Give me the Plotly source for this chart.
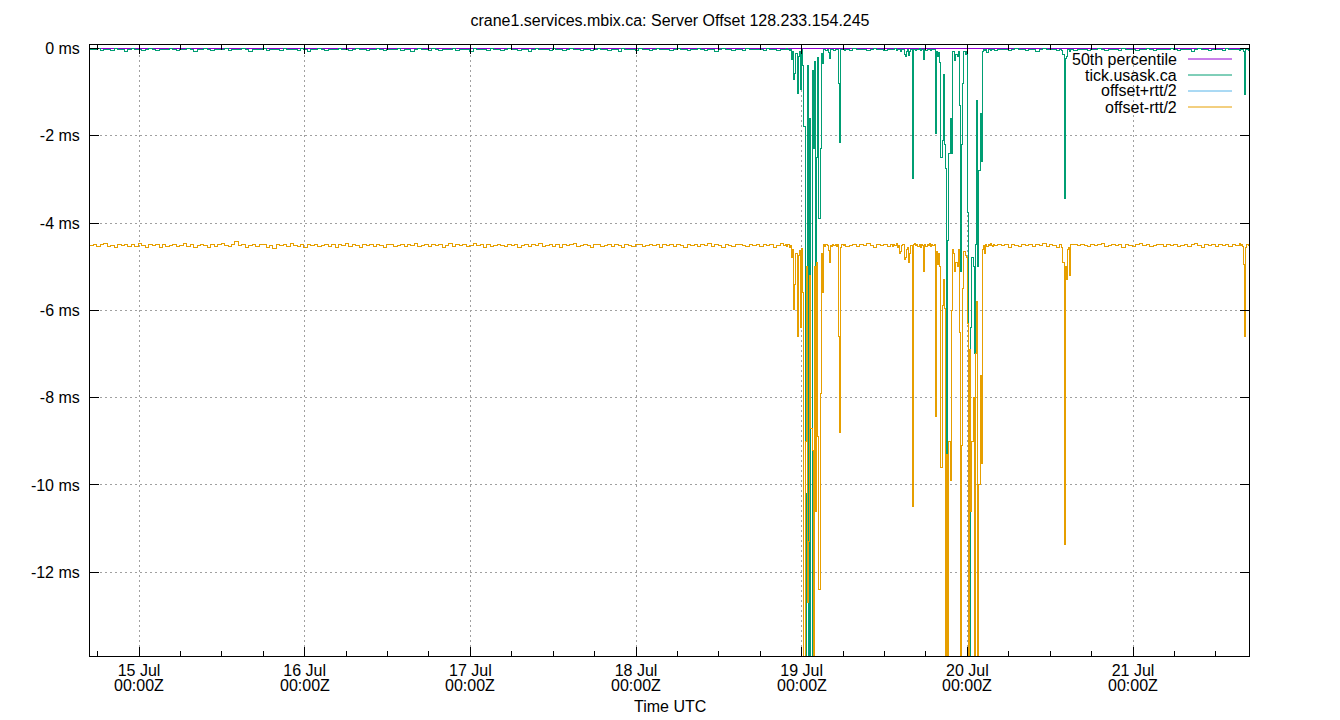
import numpy as np
import pandas as pd
import plotly.graph_objects as go

# ---------------- data ----------------
T0 = pd.Timestamp("2023-07-15 00:00:00")   # 15 Jul 00:00Z; times below are hours from T0
X_START_H = -7.1
X_END_H = 160.8

BASE_START_H = -7.1
BASE_STEP_H = 0.5

green_base = [
    -0.02,-0.03,-0.01,-0.04,-0.02,-0.02,-0.05,-0.01,-0.03,-0.02,-0.06,-0.02,-0.01,-0.03,-0.02,-0.04,-0.02,0.00,-0.03,-0.05,-0.02,-0.02,-0.03,-0.01,
    -0.02,-0.04,-0.02,-0.03,0.01,-0.02,-0.07,-0.02,-0.03,-0.01,-0.02,-0.04,-0.02,-0.03,-0.02,-0.01,-0.05,-0.02,-0.03,-0.02,0.00,-0.03,-0.06,-0.02,
    -0.03,-0.02,-0.01,-0.04,-0.02,-0.03,-0.02,-0.05,-0.01,-0.02,-0.03,-0.02,-0.04,0.00,-0.02,-0.06,-0.02,-0.03,-0.01,-0.02,-0.04,-0.02,-0.03,-0.02,
    -0.01,-0.03,-0.02,-0.05,-0.02,-0.01,-0.03,-0.02,-0.04,-0.02,-0.03,0.01,-0.02,-0.05,-0.02,-0.03,-0.02,-0.01,-0.04,-0.02,-0.03,-0.06,-0.02,-0.01,
    -0.03,-0.02,-0.04,-0.01,-0.02,-0.05,-0.02,-0.03,-0.02,0.00,-0.04,-0.02,-0.03,-0.02,-0.07,-0.01,-0.02,-0.03,-0.02,-0.04,-0.01,-0.02,-0.03,-0.05,
    -0.02,-0.01,-0.03,-0.02,-0.04,-0.02,-0.03,-0.06,-0.02,-0.01,-0.02,-0.03,-0.02,-0.04,0.00,-0.02,-0.03,-0.05,-0.02,-0.01,-0.03,-0.02,-0.04,-0.02,
    -0.03,-0.05,-0.02,-0.01,-0.02,-0.03,-0.04,-0.02,-0.02,-0.06,-0.01,-0.03,-0.02,-0.02,-0.04,-0.01,-0.03,-0.02,-0.05,-0.02,0.01,-0.02,-0.03,-0.02,
    -0.04,-0.02,-0.01,-0.03,-0.02,-0.05,-0.02,-0.03,0.00,-0.02,-0.04,-0.02,-0.03,-0.06,-0.02,-0.01,-0.02,-0.03,-0.04,-0.02,-0.02,-0.05,-0.01,-0.03,
    -0.02,-0.03,-0.02,-0.04,-0.01,-0.02,-0.03,-0.05,-0.02,-0.02,-0.01,-0.04,-0.02,-0.03,-0.02,-0.06,-0.02,-0.01,-0.03,-0.02,-0.04,-0.02,-0.03,-0.01,
    -0.02,-0.04,-0.03,-0.02,-0.05,-0.01,-0.02,-0.03,-0.02,-0.04,-0.02,0.00,-0.03,-0.02,-0.05,-0.02,-0.03,-0.01,-0.02,-0.04,-0.02,-0.06,-0.02,-0.03,
    -0.01,-0.02,-0.03,-0.02,-0.04,-0.02,-0.03,-0.02,-0.05,-0.01,-0.02,-0.03,-0.04,-0.02,-0.02,-0.03,-0.01,-0.05,-0.02,-0.03,-0.02,-0.04,-0.01,-0.02,
    -0.03,-0.02,-0.05,-0.02,-0.01,-0.03,-0.02,-0.04,-0.02,-0.03,-0.06,-0.02,-0.01,-0.02,-0.03,-0.02,-0.04,-0.02,0.00,-0.03,-0.02,-0.05,-0.02,-0.03,
    -0.02,-0.04,-0.02,-0.03,-0.01,-0.02,-0.05,-0.02,-0.03,-0.02,-0.04,-0.01,-0.02,-0.03,-0.02,-0.05,-0.02,-0.03,-0.01,-0.02,-0.04,-0.02,-0.03,-0.02,
    -0.03,-0.01,-0.02,-0.04,-0.02,-0.03,-0.02,-0.06,-0.02,-0.01,-0.03,-0.02,-0.04,-0.02,-0.03,-0.02,-0.05,-0.01,-0.02,-0.03,-0.02,-0.04,-0.02,-0.03,
    -0.02,
]

orange_base = [
    -4.52,-4.49,-4.54,-4.50,-4.47,-4.53,-4.51,-4.56,-4.49,-4.52,-4.48,-4.54,-4.50,-4.53,-4.46,-4.51,-4.55,-4.49,-4.52,-4.50,-4.57,-4.48,-4.53,-4.51,
    -4.49,-4.54,-4.51,-4.47,-4.53,-4.50,-4.55,-4.52,-4.48,-4.51,-4.56,-4.49,-4.53,-4.50,-4.47,-4.52,-4.54,-4.50,-4.43,-4.51,-4.49,-4.55,-4.52,-4.50,
    -4.53,-4.50,-4.48,-4.55,-4.51,-4.58,-4.49,-4.52,-4.50,-4.54,-4.47,-4.51,-4.53,-4.49,-4.56,-4.50,-4.52,-4.48,-4.54,-4.51,-4.49,-4.53,-4.50,-4.55,
    -4.50,-4.52,-4.47,-4.53,-4.49,-4.51,-4.55,-4.48,-4.52,-4.50,-4.54,-4.49,-4.51,-4.57,-4.50,-4.48,-4.53,-4.51,-4.49,-4.54,-4.50,-4.52,-4.47,-4.53,
    -4.51,-4.49,-4.54,-4.50,-4.52,-4.48,-4.55,-4.51,-4.47,-4.53,-4.50,-4.52,-4.49,-4.54,-4.51,-4.46,-4.52,-4.50,-4.55,-4.49,-4.53,-4.51,-4.48,-4.52,
    -4.54,-4.50,-4.52,-4.49,-4.56,-4.51,-4.48,-4.53,-4.50,-4.52,-4.47,-4.54,-4.51,-4.49,-4.53,-4.50,-4.55,-4.48,-4.52,-4.50,-4.46,-4.53,-4.51,-4.49,
    -4.52,-4.55,-4.50,-4.48,-4.53,-4.51,-4.49,-4.54,-4.50,-4.52,-4.57,-4.49,-4.51,-4.53,-4.48,-4.50,-4.54,-4.51,-4.49,-4.52,-4.50,-4.55,-4.48,-4.51,
    -4.50,-4.53,-4.49,-4.51,-4.55,-4.48,-4.52,-4.50,-4.54,-4.49,-4.51,-4.47,-4.53,-4.50,-4.52,-4.56,-4.49,-4.51,-4.53,-4.48,-4.50,-4.52,-4.54,-4.49,
    -4.51,-4.48,-4.53,-4.50,-4.52,-4.49,-4.55,-4.51,-4.47,-4.52,-4.50,-4.54,-4.49,-4.51,-4.53,-4.48,-4.50,-4.56,-4.51,-4.49,-4.52,-4.50,-4.47,-4.53,
    -4.50,-4.52,-4.49,-4.54,-4.51,-4.48,-4.53,-4.50,-4.52,-4.46,-4.51,-4.55,-4.49,-4.52,-4.50,-4.53,-4.48,-4.51,-4.54,-4.50,-4.52,-4.49,-4.51,-4.53,
    -4.49,-4.52,-4.50,-4.47,-4.53,-4.51,-4.54,-4.49,-4.50,-4.52,-4.48,-4.55,-4.51,-4.49,-4.53,-4.50,-4.52,-4.47,-4.51,-4.54,-4.50,-4.48,-4.52,-4.50,
    -4.52,-4.49,-4.55,-4.50,-4.51,-4.53,-4.48,-4.52,-4.50,-4.54,-4.49,-4.51,-4.47,-4.53,-4.50,-4.52,-4.56,-4.49,-4.51,-4.50,-4.53,-4.48,-4.52,-4.50,
    -4.51,-4.53,-4.49,-4.52,-4.50,-4.47,-4.54,-4.51,-4.49,-4.52,-4.50,-4.55,-4.48,-4.51,-4.53,-4.50,-4.46,-4.52,-4.49,-4.54,-4.51,-4.50,-4.48,-4.53,
    -4.50,-4.52,-4.48,-4.54,-4.51,-4.49,-4.53,-4.50,-4.47,-4.52,-4.55,-4.49,-4.51,-4.50,-4.53,-4.48,-4.52,-4.50,-4.54,-4.49,-4.51,-4.47,-4.53,-4.50,
    -4.52,
]

# disturbed periods, sampled every 10 minutes
CL_STEP_H = 1.0 / 6.0

clusterA_start_h = 93.5
clusterA_green = [
    -0.02,-0.03,-0.01,-0.02,-0.05,-0.02,-0.25,-0.08,-0.72,-0.57,-0.12,-1.03,-0.18,-0.08,-0.95,-0.03,-0.40,
    -1.78,-15.0,-10.2,-0.40,-15.0,-1.60,-15.0,-0.50,-2.30,-0.30,-5.20,-2.50,-0.20,-3.90,-2.30,-0.12,-0.35,
    -0.03,-0.02,-0.05,-0.02,-0.10,-0.22,-0.02,-0.03,-0.02,-0.04,-0.02,-0.03,-0.02,-0.80,-2.15,-0.02,-0.03,-0.02,-0.04,
]
clusterA_orange = [
    -4.52,-4.49,-4.53,-4.50,-4.56,-4.51,-4.80,-4.60,-5.98,-5.40,-4.70,-6.60,-4.75,-4.62,-6.40,-4.58,-5.60,
    -15.0,-9.00,-5.00,-12.7,-11.3,-5.20,-8.70,-9.20,-15.0,-5.00,-10.6,-4.90,-8.90,-12.4,-7.90,-4.70,-5.60,
    -4.50,-4.53,-4.49,-4.52,-4.62,-4.90,-4.51,-4.54,-4.50,-4.52,-4.48,-4.53,-4.50,-6.60,-8.80,-4.55,-4.50,-4.52,-4.49,
]

clusterB_start_h = 109.0
clusterB_green = [
    -0.02,-0.03,-0.02,-0.01,-0.04,-0.02,-0.03,-0.02,-0.06,-0.02,-0.03,-0.13,-0.18,-0.06,-0.03,-0.16,-0.08,-0.02,
    -2.97,-0.03,-0.02,-0.04,-0.02,-0.03,-0.01,-0.05,-0.02,-0.03,-0.25,-0.02,-0.04,-0.02,-0.03,-0.02,-0.05,-0.02,
    -0.03,-0.02,-1.95,-0.08,-0.18,-0.10,-0.33,-2.50,-2.10,-0.60,-2.20,-2.76,-15.0,-4.40,-2.40,-1.60,-2.40,-0.08,
    -0.06,-0.28,-0.13,-0.18,-0.08,-1.30,-5.10,-2.20,-0.80,-0.08,-0.13,-0.06,-3.76,-10.6,-15.0,-6.40,-4.80,-5.00,
    -7.00,-4.50,-1.20,-5.00,-2.80,-1.50,-2.60,-0.08,-0.02,-0.04,-0.02,-0.10,-0.03,-0.02,-0.05,-0.02,-0.03,-0.02,-0.04,
]
clusterB_orange = [
    -4.50,-4.53,-4.49,-4.52,-4.47,-4.55,-4.51,-4.70,-4.65,-4.52,-4.50,-4.84,-4.80,-4.60,-4.55,-4.90,-4.70,-4.52,
    -10.5,-4.50,-4.47,-4.52,-4.49,-4.53,-4.50,-4.55,-4.48,-4.52,-5.10,-4.50,-4.53,-4.49,-4.52,-4.46,-4.54,-4.50,
    -4.52,-4.48,-8.44,-4.65,-4.95,-4.70,-5.00,-9.60,-5.90,-5.30,-5.95,-15.0,-9.30,-15.0,-9.00,-9.90,-6.00,-4.60,
    -4.70,-5.10,-4.90,-5.00,-4.60,-6.50,-15.0,-9.10,-5.50,-4.65,-4.75,-4.80,-6.30,-15.0,-6.90,-10.6,-9.00,-8.00,
    -15.0,-7.00,-5.80,-15.0,-10.0,-7.50,-9.50,-4.60,-4.52,-4.70,-4.50,-4.53,-4.49,-4.52,-4.47,-4.51,-4.54,-4.50,-4.52,
]

clusterC_start_h = 133.5
clusterC_green = [-0.02,-0.04,-0.13,-3.43,-0.22,-0.18,-0.03,-0.02,-0.07,-0.02]
clusterC_orange = [-4.50,-4.55,-4.90,-11.37,-5.00,-5.30,-4.60,-4.55,-5.20,-4.50]

clusterD_start_h = 159.5
clusterD_green = [-0.02,-0.03,-0.02,-0.06,-1.06,-0.03,-0.02,-0.04,-0.02]
clusterD_orange = [-4.52,-4.49,-4.53,-4.95,-6.60,-4.55,-4.50,-4.52,-4.50]

# offset+rtt/2 stays above the plotted range (about +4.4 ms)
blue_h = [-7.1, 17.0, 41.0, 65.0, 89.0, 113.0, 137.0, 160.8]
blue_v = [4.42, 4.46, 4.41, 4.44, 4.43, 4.45, 4.40, 4.44]

p50_value = 0.01

day_ticks_h = [0, 24, 48, 72, 96, 120, 144]
day_labels = ["15 Jul", "16 Jul", "17 Jul", "18 Jul", "19 Jul", "20 Jul", "21 Jul"]
time_label = "00:00Z"
y_ticks = [0, -2, -4, -6, -8, -10, -12]
y_labels = ["0 ms", "-2 ms", "-4 ms", "-6 ms", "-8 ms", "-10 ms", "-12 ms"]
Y_RANGE = [-13.92, 0.08]

series_names = ["50th percentile", "tick.usask.ca", "offset+rtt/2", "offset-rtt/2"]
series_colors = ["#9400d3", "#009e73", "#56b4e9", "#e69f00"]


def hours_to_time(h):
    return T0 + pd.to_timedelta(np.asarray(h, dtype=float), unit="h")


def assemble(base, clusters):
    bt = BASE_START_H + BASE_STEP_H * np.arange(len(base))
    bv = np.asarray(base, dtype=float)
    keep = np.ones(len(bt), dtype=bool)
    ts, vs = [], []
    for start, vals in clusters:
        ct = start + CL_STEP_H * np.arange(len(vals))
        keep &= ~((bt >= ct[0]) & (bt <= ct[-1]))
        ts.append(ct)
        vs.append(np.asarray(vals, dtype=float))
    ts.insert(0, bt[keep])
    vs.insert(0, bv[keep])
    t = np.concatenate(ts)
    v = np.concatenate(vs)
    order = np.argsort(t, kind="stable")
    return hours_to_time(t[order]), v[order]


g_t, g_v = assemble(green_base, [(clusterA_start_h, clusterA_green), (clusterB_start_h, clusterB_green),
                                 (clusterC_start_h, clusterC_green), (clusterD_start_h, clusterD_green)])
o_t, o_v = assemble(orange_base, [(clusterA_start_h, clusterA_orange), (clusterB_start_h, clusterB_orange),
                                  (clusterC_start_h, clusterC_orange), (clusterD_start_h, clusterD_orange)])

FONT = "Liberation Sans, Arial, sans-serif"

fig = go.Figure()
fig.add_trace(go.Scatter(x=hours_to_time([X_START_H, X_END_H]), y=[p50_value, p50_value], mode="lines",
                         name=series_names[0], line=dict(color=series_colors[0], width=1)))
fig.add_trace(go.Scatter(x=g_t, y=g_v, mode="lines", name=series_names[1],
                         line=dict(color=series_colors[1], width=1, shape="hv")))
fig.add_trace(go.Scatter(x=hours_to_time(blue_h), y=blue_v, mode="lines", name=series_names[2],
                         line=dict(color=series_colors[2], width=1, shape="hv")))
fig.add_trace(go.Scatter(x=o_t, y=o_v, mode="lines", name=series_names[3],
                         line=dict(color=series_colors[3], width=1, shape="hv")))

PLOT_L, PLOT_R, PLOT_T, PLOT_B = 90, 1249, 45, 656
pw, ph = PLOT_R - PLOT_L, PLOT_B - PLOT_T

# gnuplot-style key: right-aligned text with the line sample to its right
key_rows_px = [59, 75, 91, 107]
for name, color, ypx in zip(series_names, series_colors, key_rows_px):
    yp = 1 - (ypx - PLOT_T) / ph
    fig.add_annotation(x=(1179 - PLOT_L) / pw, y=yp, xref="paper", yref="paper", text=name,
                       showarrow=False, xanchor="right", yanchor="middle",
                       font=dict(family=FONT, size=16, color="black"))
    fig.add_shape(type="line", xref="paper", yref="paper", x0=(1188 - PLOT_L) / pw, x1=(1232 - PLOT_L) / pw,
                  y0=yp, y1=yp, line=dict(color=color, width=1))

# second line of the date tick labels (gnuplot uses tight line spacing)
for th in day_ticks_h:
    fig.add_annotation(x=hours_to_time([th])[0], y=-(685 - PLOT_B) / ph, xref="x", yref="paper",
                       text=time_label, showarrow=False, xanchor="center", yanchor="middle",
                       font=dict(family=FONT, size=16, color="black"))

# x-axis title
fig.add_annotation(x=0.5, y=-(706 - PLOT_B) / ph, xref="paper", yref="paper", text="Time UTC",
                   showarrow=False, xanchor="center", yanchor="middle",
                   font=dict(family=FONT, size=16, color="black"))

fig.update_layout(
    width=1340, height=720,
    margin=dict(l=PLOT_L, r=1340 - PLOT_R, t=PLOT_T, b=720 - PLOT_B, autoexpand=False),
    paper_bgcolor="white", plot_bgcolor="white",
    showlegend=False,
    font=dict(family=FONT, size=16, color="black"),
    title=dict(text="crane1.services.mbix.ca: Server Offset 128.233.154.245",
               x=0.5, xanchor="center", y=1 - 20 / 720, yanchor="middle", yref="container",
               font=dict(family=FONT, size=16, color="black")),
    xaxis=dict(
        range=hours_to_time([X_START_H, X_END_H]),
        tickmode="array", tickvals=hours_to_time(day_ticks_h), ticktext=day_labels,
        ticks="inside", ticklen=9, tickcolor="black", tickwidth=1,
        showline=True, linecolor="black", linewidth=1, mirror="ticks",
        showgrid=True, gridcolor="#a0a0a0", gridwidth=1, griddash="2px,3px",
        zeroline=False, automargin=False,
        minor=dict(tickmode="linear", tick0=hours_to_time([0])[0], dtick=6 * 3600 * 1000,
                   ticks="inside", ticklen=5, tickcolor="black", showgrid=False),
        tickfont=dict(family=FONT, size=16),
    ),
    yaxis=dict(
        range=Y_RANGE,
        tickmode="array", tickvals=y_ticks, ticktext=y_labels,
        ticks="inside", ticklen=9, tickcolor="black", tickwidth=1,
        showline=True, linecolor="black", linewidth=1, mirror="ticks",
        showgrid=True, gridcolor="#a0a0a0", gridwidth=1, griddash="2px,3px",
        zeroline=False, automargin=False,
        tickfont=dict(family=FONT, size=16),
        ticklabelstandoff=6,
    ),
)

post = (
    "document.body.style.margin='0px';"
    "var st=document.createElement('style');"
    "st.textContent='.scatterlayer path.js-line{shape-rendering:crispEdges;}';"
    "document.head.appendChild(st);"
)
fig.write_html("out.html", config={"displayModeBar": False}, post_script=post)
